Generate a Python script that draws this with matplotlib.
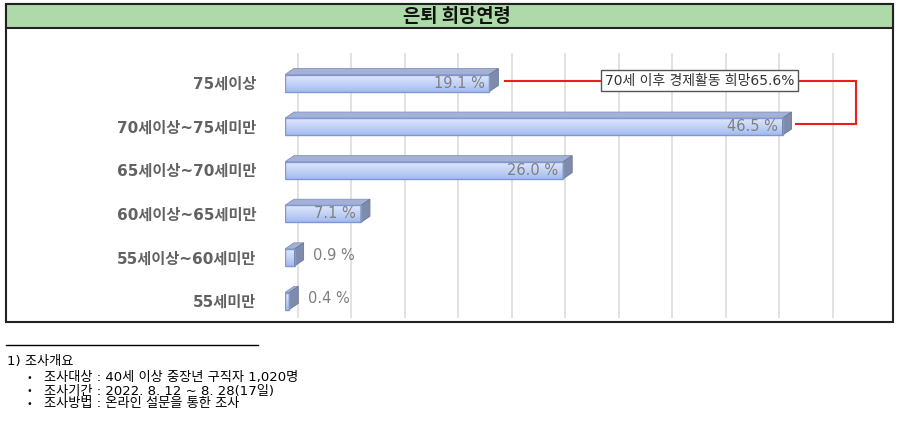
import matplotlib
matplotlib.use('Agg')
import matplotlib.pyplot as plt
from matplotlib.patches import Polygon, Rectangle
import numpy as np

plt.rcParams['font.family'] = ['Noto Sans CJK KR', 'DejaVu Sans']

# data
categories = ['75세이상', '70세이상~75세미만', '65세이상~70세미만',
              '60세이상~65세미만', '55세이상~60세미만', '55세미만']
values = [19.1, 46.5, 26.0, 7.1, 0.9, 0.4]
title = '은퇴 희망연령'
note_text = '70세 이후 경제활동 희망65.6%'
footnote_head = '1) 조사개요'
footnote_items = ['조사대상 : 40세 이상 중장년 구직자 1,020명',
                  '조사기간 : 2022. 8. 12 ~ 8. 28(17일)',
                  '조사방법 : 온라인 설문을 통한 조사']

wide = ['DejaVu Sans', 'Noto Sans CJK KR']

W, H = 899, 421
fig = plt.figure(figsize=(W / 100, H / 100), dpi=100)

# background layer in pixel coords (frame, title band, footnote)
bg = fig.add_axes([0, 0, 1, 1])
bg.set_xlim(0, W)
bg.set_ylim(H, 0)
bg.axis('off')
bg.add_patch(Rectangle((6, 4), 887, 318, facecolor='white', edgecolor='#222222', lw=1.5))
bg.add_patch(Rectangle((6, 4), 887, 24, facecolor='#addaa8', edgecolor='#222222', lw=1.5))
bg.text(457, 16.5, title, ha='center', va='center', fontsize=13.5, fontweight='bold', color='#111111')

bg.plot([6, 258], [345, 345], color='black', lw=1)
bg.text(7, 361, footnote_head, ha='left', va='center', fontsize=9.5, family=wide, color='black')
for i, item in enumerate(footnote_items):
    yy = 378 + i * 13
    bg.text(27, yy, '•', ha='left', va='center', fontsize=8, color='black')
    bg.text(44, yy, item, ha='left', va='center', fontsize=9.5, family=wide, color='black')

# bar chart
scale = 10.7          # px per percent
x0_px, top_px, bot_px = 285, 53, 318
xmax = 55
ax = fig.add_axes([x0_px / W, 1 - bot_px / H, xmax * scale / W, (bot_px - top_px) / H])
ax.set_facecolor('none')
for s in ax.spines.values():
    s.set_visible(False)
ax.set_xticks([])
ax.set_yticks([])

n = len(values)
ypos = np.arange(n)
h = 0.39
dx = 0.84
dy = 0.14
wall = 1.2

ylim = (5.39, -0.69)
for t in np.arange(0, 51, 5):
    ax.plot([t + wall, t + wall], [ylim[0], ylim[1]], color='#dddddd', lw=1.2, zorder=0)

grad = np.linspace(0, 1, 50).reshape(-1, 1)
cmap = matplotlib.colors.LinearSegmentedColormap.from_list('bar', ['#dfe7fb', '#c3d3f6', '#a4bbee'])

for y, v in zip(ypos, values):
    top = y - h / 2
    bot = y + h / 2
    # shadow on left
    ax.add_patch(Polygon([(-0.45, top - dy + 0.05), (0, top - dy), (0, bot + 0.05), (-0.45, bot + 0.1)],
                         closed=True, facecolor='#9a9a9a', edgecolor='none', alpha=0.6, zorder=1))
    rect = Rectangle((0, top), v, h, facecolor='none', edgecolor='#7d98d6', lw=1.0, zorder=3)
    ax.add_patch(rect)
    im = ax.imshow(grad, cmap=cmap, extent=(0, v, bot, top), aspect='auto', zorder=2)
    im.set_clip_path(rect)
    ax.add_patch(Polygon([(0, top), (v, top), (v + dx, top - dy), (dx, top - dy)],
                         closed=True, facecolor='#a3b1d4', edgecolor='#8393bd', lw=0.6, zorder=2))
    ax.add_patch(Polygon([(v, top), (v + dx, top - dy), (v + dx, bot - dy), (v, bot)],
                         closed=True, facecolor='#7e8bab', edgecolor='#6c7899', lw=0.6, zorder=2))
    label = f'{v:.1f} %'
    if v >= 5:
        ax.text(v - 0.45, y, label, ha='right', va='center', fontsize=10.5,
                family=['DejaVu Sans'], color='#7f7f7f', zorder=4)
    else:
        ax.text(v + dx + 0.9, y - 0.05, label, ha='left', va='center', fontsize=10.5,
                family=['DejaVu Sans'], color='#7f7f7f', zorder=4)

for y, c in zip(ypos, categories):
    ax.text(-2.7, y + 0.03, c, ha='right', va='center', fontsize=11, fontweight='bold',
            family=wide, color='#626262')

# annotation: bracket from first two bars to the note box
yl0, yl1 = ypos[0] - 0.05, ypos[1] - 0.05
xr = 53.4
ax.plot([values[0] + dx + 0.6, xr, xr, values[1] + dx + 0.4], [yl0, yl0, yl1, yl1],
        color='#ee1c1c', lw=1.5, zorder=3, solid_joinstyle='miter')
ax.text(38.75, yl0, note_text, ha='center', va='center', fontsize=10, family=wide,
        color='#333333', zorder=5,
        bbox=dict(boxstyle='square,pad=0.25', facecolor='white', edgecolor='#555555', lw=1))

ax.set_xlim(0, xmax)
ax.set_ylim(*ylim)

fig.savefig('out.png', dpi=100)
